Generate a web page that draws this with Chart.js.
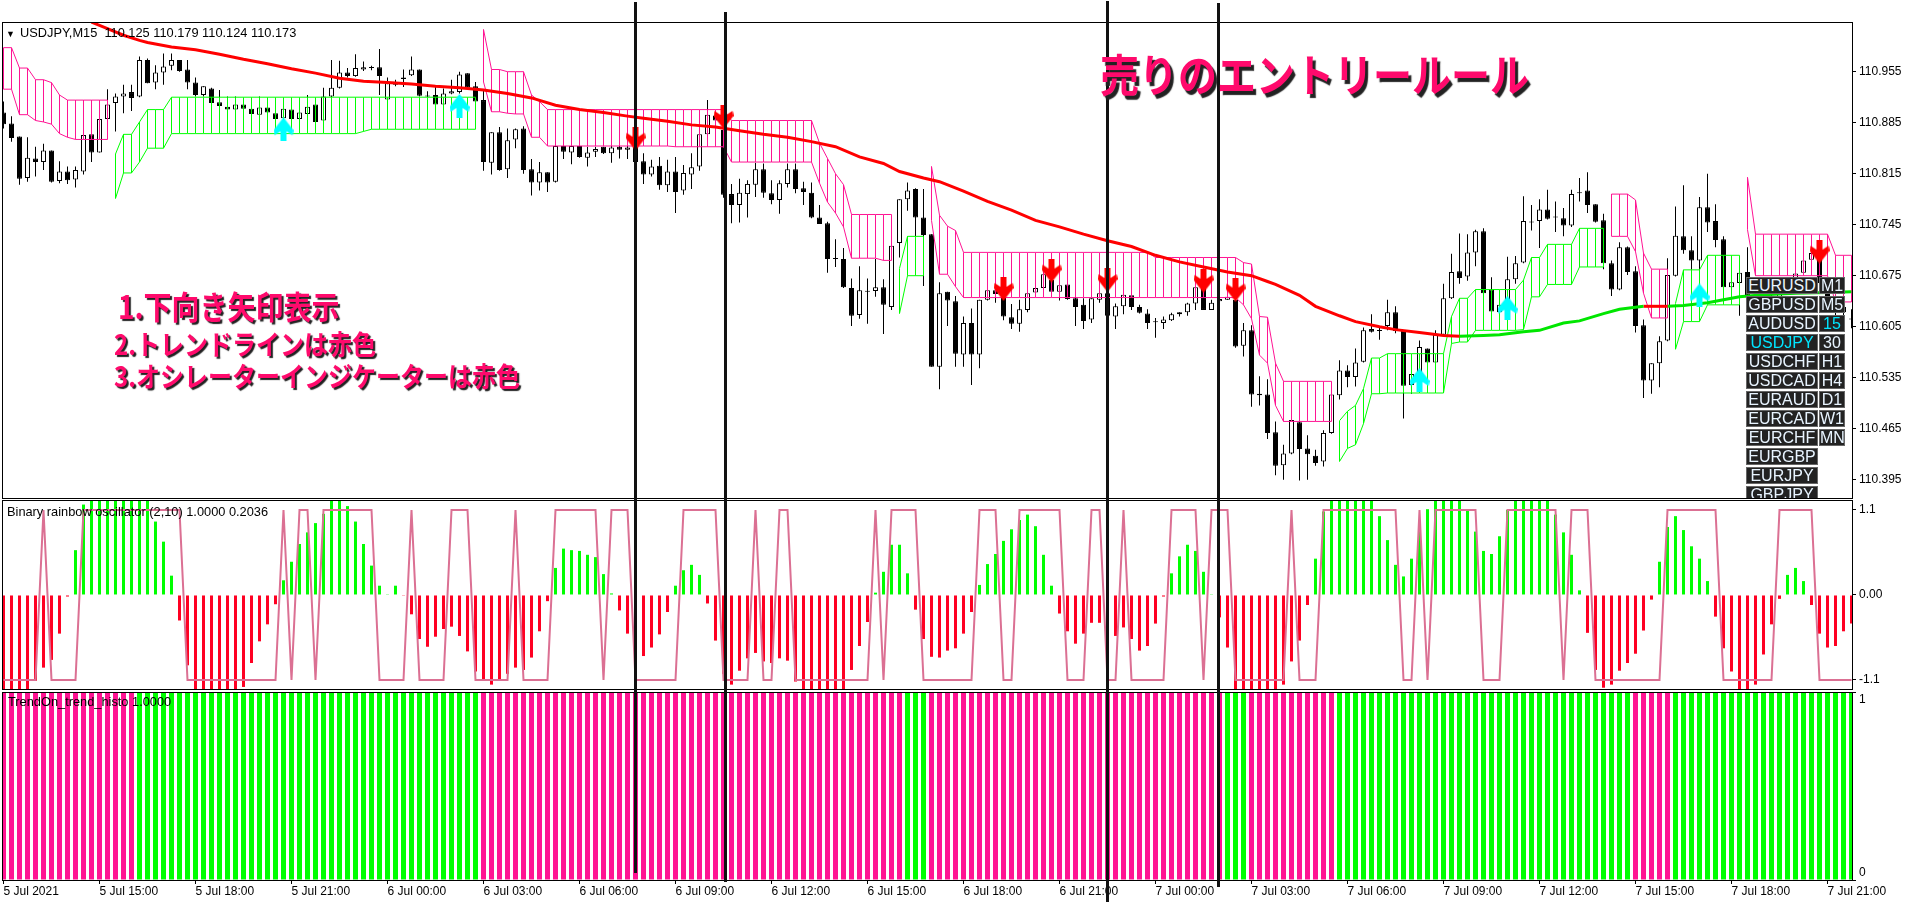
<!DOCTYPE html>
<html>
<head>
<meta charset="utf-8">
<title>USDJPY,M15</title>
<script src="https://cdn.jsdelivr.net/npm/chart.js@4"></script>
<style>
body { margin: 0; background: #fff; width: 1916px; height: 904px; overflow: hidden; position: relative; font-family: "Liberation Sans", Arial, sans-serif; }
canvas { position: absolute; left: 0; }
.caption { position: absolute; font-size: 12.8px; line-height: 14px; color: #000; white-space: pre; z-index: 5; }
.note { position: absolute; font-family: "Noto Sans CJK JP", sans-serif; font-weight: 700; color: #ff0a6c; white-space: pre; z-index: 7; text-shadow: 2px 2px 1px #222; transform: scaleY(1.15); transform-origin: left bottom; }
.entry { position: absolute; width: 3px; background: #111; z-index: 6; }
#panel { position: absolute; left: 1746px; top: 277px; width: 100px; height: 221px; overflow: hidden; z-index: 8; }
.btn { position: absolute; box-sizing: border-box; height: 17px; background: #222; border: 1px solid #666; color: #e8f4ff; font-size: 16px; line-height: 15px; text-align: center; overflow: hidden; }
</style>
</head>
<body>
<canvas id="priceChart" width="1916" height="499" style="top:0"></canvas>
<canvas id="oscChart" width="1916" height="191" style="top:499px"></canvas>
<canvas id="trendChart" width="1916" height="214" style="top:690px"></canvas>

<div class="caption" style="left:6px;top:27px;font-size:9px">▼</div>
<div class="caption" style="left:20px;top:26px">USDJPY,M15  110.125 110.179 110.124 110.173</div>
<div class="caption" style="left:7px;top:505px">Binary rainbow oscillator (2,10) 1.0000 0.2036</div>
<div class="caption" style="left:8px;top:695px">TrendOn_trend_histo 1.0000</div>

<div class="note" style="left:1100px;top:48px;font-size:39px;line-height:58px;text-shadow:3px 3px 1px #222">売りのエントリールール</div>
<div class="note" style="left:118px;top:288px;font-size:28px;line-height:40px">1.下向き矢印表示</div>
<div class="note" style="left:114px;top:328px;font-size:24px;line-height:36px">2.トレンドラインは赤色</div>
<div class="note" style="left:114px;top:360px;font-size:24px;line-height:36px">3.オシレーターインジケーターは赤色</div>

<div id="panel"></div>

<script>
// prices are kept in points above 110.000
const priceBase = 110;

const opens = [
899,884,866,809,836,831,847,805,818,807,818,869,844,890,912,921,927,921,971,940,
954,963,971,958,940,923,932,913,907,903,910,904,896,906,898,891,903,890,897,910,
888,921,933,954,949,958,961,961,917,937,947,950,958,922,923,910,925,927,953,935,
916,830,872,821,862,877,821,803,817,804,853,844,853,837,845,852,843,852,848,852,
832,814,826,799,818,792,814,825,869,895,875,787,772,787,800,821,788,779,801,821,
795,789,755,747,699,698,658,621,654,654,659,632,720,780,794,755,732,550,653,640,
567,610,567,642,655,646,618,609,628,652,658,669,653,663,644,635,615,642,651,619,
633,648,632,623,611,610,614,622,625,637,658,628,640,642,642,579,600,513,512,460,
415,431,474,438,428,420,459,511,545,536,557,602,600,606,625,599,525,542,575,556,
594,644,681,674,707,736,656,625,642,670,693,748,750,766,755,754,744,789,792,773,
751,692,656,714,681,607,531,555,586,675,729,710,696,769,750,725,659,665,680,648,
641,632,645,655,668,679,697,700,665,640,625,616];
const highs = [
914,894,866,865,852,856,847,832,825,825,868,869,890,931,925,937,937,976,973,964,
980,980,971,971,947,935,933,930,921,921,918,916,921,918,907,918,912,899,923,916,
933,971,970,960,979,969,963,986,947,944,958,976,958,928,934,932,944,955,953,941,
929,872,879,877,877,880,835,831,817,853,853,853,853,852,852,852,853,853,853,855,
843,834,838,834,838,827,843,869,916,902,898,801,808,806,830,829,806,806,829,829,
804,803,772,749,725,713,671,688,671,698,670,716,780,803,795,794,732,666,653,647,
619,630,642,659,662,664,636,642,655,662,680,683,662,663,646,644,644,653,653,637,
651,649,635,629,617,619,624,625,638,662,664,642,653,648,646,610,607,537,533,475,
443,477,475,456,436,463,512,559,552,575,604,622,606,642,633,599,540,586,575,600,
664,705,733,732,738,740,673,637,701,702,784,772,780,793,777,768,793,809,817,773,
760,696,721,715,688,615,555,592,699,770,799,729,783,815,773,729,667,680,714,655,
650,650,658,668,680,696,708,717,672,650,640,629];
const lows = [
877,859,800,804,811,820,803,802,801,796,814,831,844,889,873,898,901,920,939,931,
937,957,955,931,921,921,911,907,902,902,903,896,895,898,889,890,889,889,897,886,
888,920,932,947,948,956,957,923,916,935,934,949,921,920,909,909,924,925,932,913,
819,814,819,809,850,815,785,792,790,803,835,828,837,825,838,842,830,836,835,830,
801,811,793,790,761,786,794,819,868,886,782,747,748,755,783,782,773,760,796,788,
772,754,746,679,687,658,606,616,609,646,595,628,700,764,729,661,550,519,606,550,
550,525,548,641,638,614,602,598,625,652,658,653,641,642,606,602,610,638,619,602,
622,628,623,602,590,602,613,619,620,628,628,628,628,642,576,564,495,497,451,401,
395,430,394,395,414,413,458,505,522,523,556,597,587,600,596,479,513,541,555,555,
593,643,664,668,688,648,625,623,637,664,692,737,713,752,735,729,742,777,761,748,
684,647,655,676,597,507,513,522,585,674,705,683,683,735,714,658,659,620,646,632,
625,628,640,650,660,676,695,660,632,618,618,603];
const closes = [
883,864,808,837,831,847,804,818,806,820,868,844,890,910,921,925,919,971,939,954,
962,971,956,940,923,935,912,908,903,910,904,897,906,899,890,904,890,899,907,886,
921,933,954,949,960,961,960,949,939,938,945,958,922,921,910,925,928,951,933,914,
831,872,820,861,876,820,803,817,803,853,845,853,838,844,849,843,851,848,851,831,
814,825,799,818,790,816,824,869,896,888,786,772,789,801,821,789,779,802,821,794,
790,755,746,698,698,659,620,655,653,659,635,716,780,792,755,731,550,651,641,568,
610,567,642,655,650,619,609,629,651,658,677,653,662,643,632,613,644,651,620,633,
649,632,624,610,611,615,622,625,637,659,628,638,643,646,578,600,512,511,459,414,
431,477,437,430,418,459,512,545,536,556,600,598,599,625,599,524,540,577,556,594,
644,680,672,707,736,651,626,635,670,692,750,748,766,753,755,744,787,788,772,749,
692,656,714,680,606,531,555,585,676,730,710,696,769,748,724,659,666,679,648,640,
632,645,655,665,678,696,706,665,640,625,632,615];

const cloudUpper = [
988,988,960,960,944,944,940,923,916,916,916,916,916,916,842,869,869,886,903,903,
903,920,920,920,920,920,920,920,920,920,920,920,920,920,920,920,920,920,920,920,
920,920,920,920,920,920,920,920,920,920,920,920,920,920,920,920,920,920,920,920,
1013,958,958,955,955,955,923,914,903,903,903,903,903,903,903,903,903,903,903,903,
903,903,903,903,903,903,903,903,903,903,903,888,888,888,888,888,888,888,888,888,
888,888,857,836,815,800,759,759,759,759,759,759,685,729,729,729,825,758,743,737,
707,707,707,707,707,707,707,707,707,707,707,707,707,707,707,707,707,707,707,707,
707,707,707,707,700,700,700,700,700,700,700,700,700,700,700,693,691,619,618,555,
530,530,530,530,530,530,530,476,489,497,520,562,562,568,568,568,568,568,568,568,
568,619,644,644,656,656,656,656,656,656,669,700,700,718,718,718,718,740,740,740,
740,787,787,787,779,706,684,684,684,637,683,683,683,703,703,703,703,703,810,732,
732,732,732,732,732,732,732,732,732,703,703,703];
const cloudLower = [
931,931,896,896,888,886,883,870,865,862,862,862,862,862,781,816,816,831,850,850,
850,870,870,870,870,870,870,870,870,870,870,870,870,870,870,870,870,870,870,870,
870,870,870,870,870,873,876,876,876,876,876,876,876,876,876,876,876,876,876,876,
941,900,900,898,897,897,865,865,853,853,853,853,853,853,853,853,853,853,853,853,
853,853,853,853,852,852,852,852,852,852,852,831,831,831,831,831,831,831,831,831,
831,831,802,776,761,742,699,699,699,699,696,696,623,675,675,675,751,677,677,660,
645,645,645,645,645,645,645,645,645,645,645,645,645,645,645,645,645,645,645,645,
645,645,645,645,645,645,645,645,645,645,645,645,645,645,645,635,616,566,555,497,
475,475,475,475,475,475,475,420,438,443,472,513,513,514,514,514,514,514,514,514,
514,582,584,584,600,600,600,600,600,600,601,646,646,663,663,663,663,687,687,687,
687,729,729,729,708,651,617,617,617,574,612,612,612,635,635,635,635,635,738,675,
675,675,675,675,675,675,675,675,675,639,639,639];
const cloudPinkRanges = [[0,13],[60,111],[116,166],[201,208],[218,231]];
const cloudGreenRanges = [[14,59],[112,115],[167,200],[209,217]];

const maBars = [11,13,15,17,18,21,24,27,30,33,36,39,42,45,48,51,54,57,60,63,66,69,72,75,78,
80,83,86,89,92,95,98,101,104,107,110,112,115,117,120,123,126,129,132,135,138,141,144,147,150,153,156,158,
159,162,164,167,169,172,174,177,180,182,185,187,190,192,195,197,200,202,205,208,210,213,215,217,220,224,228,231];
const maPoints = [1023,1014,1005,998,995,989,985,979,972,966,959,953,946,942,940,938,935,933,930,925,919,909,903,899,894,
891,887,882,879,874,869,865,859,852,838,829,818,809,804,791,777,765,751,742,732,723,715,703,694,687,680,675,667,
663,648,633,620,612,605,601,597,593,592,593,594,598,600,610,613,623,629,633,633,634,638,642,646,649,651,652,653];

const sellArrowBars = [79,90,125,131,138,150,154,227];
const sellArrowPoints = [863,893,657,682,669,668,656,708];
const buyArrowBars = [35,57,177,188,212];
const buyArrowPoints = [876,908,532,631,648];

const oscValues = [
-1.3,-1.3,-1.3,-1.3,-1.11,-0.94,-0.84,-0.5,-0.02,0.58,
1.17,1.3,1.3,1.3,1.3,1.3,1.3,1.3,1.3,0.95,
0.69,0.25,-0.33,-0.91,-1.3,-1.3,-1.3,-1.3,-1.3,-1.3,
-1.19,-0.88,-0.6,-0.38,-0.12,0.19,0.43,0.66,0.81,0.93,
1.05,1.3,1.3,1.15,0.95,0.66,0.38,0.12,0.01,0.12,
-0.01,-0.25,-0.57,-0.67,-0.54,-0.44,-0.41,-0.53,-0.73,-0.99,
-1.09,-1.16,-1.09,-1.02,-0.94,-0.97,-0.81,-0.47,-0.08,0.35,
0.6,0.58,0.57,0.52,0.49,0.27,0.02,-0.2,-0.5,-0.65,
-0.79,-0.68,-0.51,-0.22,0.12,0.32,0.39,0.26,-0.11,-0.59,
-1.02,-1.16,-0.98,-0.82,-0.75,-0.86,-0.88,-0.82,-0.85,-1.12,
-1.3,-1.3,-1.3,-1.3,-1.3,-1.3,-0.97,-0.66,-0.35,0.03,
0.3,0.65,0.65,0.28,-0.19,-0.57,-0.8,-0.81,-0.72,-0.69,
-0.5,-0.22,0.13,0.4,0.53,0.7,0.85,0.97,1.04,0.89,
0.52,0.12,-0.24,-0.47,-0.63,-0.5,-0.36,-0.36,-0.3,-0.53,
-0.42,-0.57,-0.72,-0.66,-0.37,-0.02,0.28,0.5,0.65,0.57,
0.3,0.01,-0.29,-0.68,-1.3,-1.3,-1.3,-1.3,-1.3,-1.3,
-1.16,-0.86,-0.59,-0.13,0.47,1.08,1.3,1.3,1.3,1.3,
1.3,1.3,1.02,0.71,0.39,0.24,0.47,0.82,1.11,1.3,
1.3,1.3,1.3,1.09,0.82,0.57,0.53,0.76,1.1,1.3,
1.3,1.3,1.3,1.3,1.04,0.81,0.52,0.06,-0.49,-0.97,
-1.2,-1.16,-0.98,-0.88,-0.76,-0.46,-0.06,0.43,0.88,1.02,
0.84,0.63,0.47,0.18,-0.28,-0.69,-0.99,-1.3,-1.3,-1.16,
-0.77,-0.38,-0.05,0.26,0.35,0.18,-0.13,-0.5,-0.68,-0.66,
-0.47,-0.37];
// level, number of bars
const rainbowRuns = [
[-1.1,5],[1.1,1],[-1.1,4],[1.1,13],[-1.1,12],[1.1,1],[-1.1,1],[1.1,2],[-1.1,1],[1.1,7],
[-1.1,4],[1.1,1],[-1.1,4],[1.1,3],[-1.1,5],[1.1,1],[-1.1,4],[1.1,6],[-1.1,1],[1.1,3],
[-1.1,6],[1.1,5],[-1.1,4],[1.1,1],[-1.1,2],[1.1,2],[-1.1,10],[1.1,1],[-1.1,1],[1.1,4],
[-1.1,7],[1.1,3],[-1.1,2],[1.1,6],[-1.1,3],[1.1,2],[-1.1,2],[1.1,1],[-1.1,5],[1.1,4],
[-1.1,1],[1.1,3],[-1.1,7],[1.1,1],[-1.1,3],[1.1,10],[-1.1,2],[1.1,1],[-1.1,1],[1.1,6],
[-1.1,3],[1.1,7],[-1.1,1],[1.1,3],[-1.1,9],[1.1,7],[-1.1,7],[1.1,5],[-1.1,5]];

// trend histogram: colour, number of bars (every bar is 1.0)
const trendRuns = [
['#ff1493',17],['#00ff00',43],['#ff1493',53],['#00ff00',3],['#ff1493',37],
['#00ff00',3],['#ff1493',11],['#00ff00',37],['#ff1493',5],['#00ff00',23]];

const timeLabels = ['5 Jul 2021','5 Jul 15:00','5 Jul 18:00','5 Jul 21:00','6 Jul 00:00','6 Jul 03:00','6 Jul 06:00',
'6 Jul 09:00','6 Jul 12:00','6 Jul 15:00','6 Jul 18:00','6 Jul 21:00','7 Jul 00:00','7 Jul 03:00','7 Jul 06:00',
'7 Jul 09:00','7 Jul 12:00','7 Jul 15:00','7 Jul 18:00','7 Jul 21:00'];
const timeTickBars = [0,12,24,36,48,60,72,84,96,108,120,132,144,156,168,180,192,204,216,228];
const priceTicks = [110.955,110.885,110.815,110.745,110.675,110.605,110.535,110.465,110.395];
const oscTicks = [1.1,0,-1.1];
const oscTickLabels = ['1.1','0.00','-1.1'];

const symbolLabels = ['EURUSD','GBPUSD','AUDUSD','USDJPY','USDCHF','USDCAD','EURAUD','EURCAD','EURCHF','EURGBP','EURJPY','GBPJPY'];
const periodLabels = ['M1','M5','15','30','H1','H4','D1','W1','MN'];

// hand drawn vertical lines on the screenshot
const entryBars = [79.05,90.3,138,151.85];
const entryTops = [2,12,1,3];
const entryBottoms = [873,882,902,887];

const barCount = opens.length;
const price = pts => priceBase + pts / 1000;

Chart.defaults.font.family = '"Liberation Sans", Arial, sans-serif';
Chart.defaults.font.size = 12;
Chart.defaults.color = '#000';
Chart.defaults.animation = false;

const frame = {
    id: 'frame',
    afterDraw(chart) {
        const a = chart.chartArea, ctx = chart.ctx;
        ctx.save();
        ctx.strokeStyle = '#000';
        ctx.lineWidth = 1;
        ctx.strokeRect(a.left + 0.5, a.top + 0.5, a.right - a.left, a.bottom - a.top);
        ctx.restore();
    }
};

const barX = { min: -0.1875, max: 231.0625 };

function xScale(show) {
    return {
        type: 'linear', display: show, min: barX.min, max: barX.max, offset: false,
        grid: { offset: false, drawOnChartArea: false, drawTicks: true, tickLength: 4, tickColor: '#000' },
        border: { display: false },
        afterFit(s) {
            s.paddingLeft = 0;
            s.paddingRight = 0;
            if (show) s.height = 24;
        },
        afterBuildTicks(s) { s.ticks = timeTickBars.map(v => ({ value: v })); },
        ticks: { autoSkip: false, maxRotation: 0, align: 'start', padding: 0, callback: (v, i) => timeLabels[i] }
    };
}

function yScale(min, max, tickValues, label) {
    return {
        position: 'right', min: min, max: max,
        grid: { drawOnChartArea: false, drawTicks: true, tickLength: 4, tickColor: '#000' },
        border: { display: false },
        afterFit(s) {
            s.width = 64;
            s.paddingTop = 0;
            s.paddingBottom = 0;
        },
        afterBuildTicks(s) { s.ticks = tickValues.map(v => ({ value: v })); },
        ticks: { autoSkip: false, padding: 3, callback: label }
    };
}

function baseOptions(padding, x, y) {
    return {
        responsive: false,
        events: [],
        layout: { padding: padding, autoPadding: false },
        plugins: { legend: { display: false }, tooltip: { enabled: false } },
        scales: { x: x, y: y }
    };
}

// thin floating bars + outline lines for the cloud
function hatch(ranges, colour) {
    const data = [];
    ranges.forEach(r => {
        for (let i = r[0]; i <= r[1]; i++) data.push({ x: i, y: [price(cloudLower[i]), price(cloudUpper[i])] });
    });
    return { type: 'bar', data: data, grouped: false, barThickness: 1, inflateAmount: 0, backgroundColor: colour, order: 8 };
}
function edge(values, ranges, colour) {
    const data = [];
    ranges.forEach(r => {
        for (let i = r[0]; i <= r[1]; i++) data.push({ x: i, y: price(values[i]) });
        data.push({ x: r[1] + 0.5, y: null });
    });
    return { type: 'line', data: data, borderColor: colour, borderWidth: 1, pointRadius: 0, tension: 0, spanGaps: false, order: 7 };
}
function maLine(from, to, colour) {
    const data = [];
    maBars.forEach((b, i) => { if (b >= from && b <= to) data.push({ x: b, y: price(maPoints[i]) }); });
    return { type: 'line', data: data, borderColor: colour, borderWidth: 3, pointRadius: 0, tension: 0, order: 6 };
}
function arrowIcon(colour, up) {
    const c = document.createElement('canvas');
    c.width = 20; c.height = 24;
    const g = c.getContext('2d');
    if (up) { g.translate(0, 24); g.scale(1, -1); }
    g.fillStyle = colour;
    g.beginPath();
    [[7,0],[13,0],[13,10],[19,6],[20,11],[10,24],[0,11],[1,6],[7,10]].forEach((p, i) => i ? g.lineTo(p[0], p[1]) : g.moveTo(p[0], p[1]));
    g.closePath();
    g.fill();
    return c;
}
function arrows(bars, points, colour, up) {
    return {
        type: 'scatter',
        data: bars.map((b, i) => ({ x: b, y: price(points[i]) })),
        pointStyle: arrowIcon(colour, up), pointRadius: 10, order: 5
    };
}

const idx = Array.from({ length: barCount }, (_, i) => i);

new Chart(document.getElementById('priceChart'), {
    type: 'bar',
    data: {
        datasets: [
            { data: idx.map(i => ({ x: i, y: [price(lows[i]), price(highs[i])] })), grouped: false, barThickness: 1, inflateAmount: 0, backgroundColor: '#000', order: 10 },
            {
                data: idx.map(i => ({ x: i, y: [price(Math.min(opens[i], closes[i])), price(Math.max(opens[i], closes[i]))] })),
                grouped: false, barThickness: 5, inflateAmount: 0, minBarLength: 1, borderWidth: 1, borderSkipped: false, borderColor: '#000',
                backgroundColor: idx.map(i => closes[i] >= opens[i] ? '#fff' : '#000'), order: 9
            },
            hatch(cloudPinkRanges, '#ff1493'),
            hatch(cloudGreenRanges, '#00ff00'),
            edge(cloudUpper, cloudPinkRanges, '#ff1493'),
            edge(cloudLower, cloudPinkRanges, '#ff1493'),
            edge(cloudUpper, cloudGreenRanges, '#00ff00'),
            edge(cloudLower, cloudGreenRanges, '#00ff00'),
            maLine(0, 182, '#ff0000'),
            maLine(182, 205, '#00e600'),
            maLine(205, 208, '#ff0000'),
            maLine(208, 231, '#00e600'),
            arrows(sellArrowBars, sellArrowPoints, '#ff0000', false),
            arrows(buyArrowBars, buyArrowPoints, '#00ffff', true)
        ]
    },
    options: baseOptions({ left: 2, top: 22, right: 0, bottom: 1 }, xScale(false),
        yScale(110.3699, 111.0232, priceTicks, v => v.toFixed(3))),
    plugins: [frame]
});

const rainbow = [];
rainbowRuns.forEach(r => { for (let k = 0; k < r[1]; k++) rainbow.push(r[0]); });

new Chart(document.getElementById('oscChart'), {
    type: 'bar',
    data: {
        datasets: [
            {
                data: idx.map(i => ({ x: i, y: oscValues[i] })), grouped: false, barThickness: 3, inflateAmount: 0,
                backgroundColor: idx.map(i => oscValues[i] >= 0 ? '#00ff00' : '#ff0022'), order: 2
            },
            { type: 'line', data: idx.map(i => ({ x: i, y: rainbow[i] })), borderColor: '#db7093', borderWidth: 2, pointRadius: 0, tension: 0, order: 1 }
        ]
    },
    options: baseOptions({ left: 2, top: 1, right: 0, bottom: 1 }, xScale(false),
        yScale(-1.2166, 1.229, oscTicks, (v, i) => oscTickLabels[i])),
    plugins: [frame]
});

const trendColours = [];
trendRuns.forEach(r => { for (let k = 0; k < r[1]; k++) trendColours.push(r[0]); });

const trendChart = new Chart(document.getElementById('trendChart'), {
    type: 'bar',
    data: {
        datasets: [{
            data: idx.map(i => ({ x: i, y: 1 })), grouped: false, barThickness: 5, inflateAmount: 0,
            backgroundColor: trendColours
        }]
    },
    options: baseOptions({ left: 2, top: 2, right: 0, bottom: 0 }, xScale(true),
        // the 1 and 0 sit just inside the panel, two line labels push them half a line in
        yScale(0, 1, [1, 0], v => v === 1 ? ['', '1'] : ['0', ''])),
    plugins: [frame]
});

entryBars.forEach((b, i) => {
    const d = document.createElement('div');
    d.className = 'entry';
    d.style.left = (trendChart.scales.x.getPixelForValue(b) - 1.5) + 'px';
    d.style.top = entryTops[i] + 'px';
    d.style.height = (entryBottoms[i] - entryTops[i]) + 'px';
    document.body.appendChild(d);
});

const panel = document.getElementById('panel');
function addButton(text, left, width, row, colour) {
    const d = document.createElement('div');
    d.className = 'btn';
    d.textContent = text;
    d.style.left = left + 'px';
    d.style.width = width + 'px';
    d.style.top = (row * 19) + 'px';
    if (colour) d.style.color = colour;
    panel.appendChild(d);
}
symbolLabels.forEach((s, i) => addButton(s, 0, 72, i, s === 'USDJPY' ? '#00e5ff' : null));
periodLabels.forEach((s, i) => addButton(s, 73, 26, i, s === '15' ? '#00e5ff' : null));
</script>
</body>
</html>
